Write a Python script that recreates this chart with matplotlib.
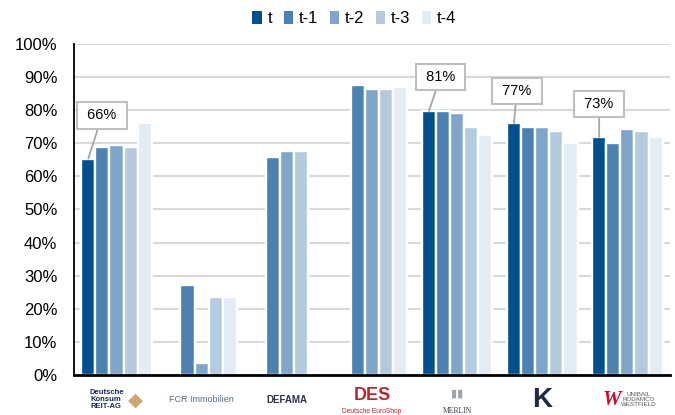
import numpy as np
import matplotlib
matplotlib.use("Agg")
import matplotlib.pyplot as plt
from matplotlib.patches import Patch
from matplotlib.transforms import blended_transform_factory

plt.rcParams['font.family'] = ['Liberation Sans', 'DejaVu Sans']

categories = ["Deutsche Konsum REIT-AG", "FCR Immobilien", "DEFAMA",
              "Deutsche EuroShop", "MERLIN", "Klépierre",
              "Unibail-Rodamco-Westfield"]
series = ["t", "t-1", "t-2", "t-3", "t-4"]
nan = np.nan
val_t  = [65.4, nan, nan, nan, 79.8, 76.1, 71.9]
val_t1 = [68.9, 27.1, 65.8, 87.6, 79.8, 74.9, 70.1]
val_t2 = [69.5, 3.6, 67.7, 86.4, 79.1, 74.9, 74.3]
val_t3 = [68.9, 23.5, 67.7, 86.4, 74.9, 73.7, 73.7]
val_t4 = [76.1, 23.5, nan, 87.0, 72.5, 70.1, 71.9]
values = [val_t, val_t1, val_t2, val_t3, val_t4]
callout_labels = ["66%", None, None, None, "81%", "77%", "73%"]
callout_offsets = [(10, 31), None, None, None, (8.5, 24.5), (2, 23), (0, 24)]
colors = ["#00508F", "#4D81B2", "#7FA6CA", "#B4CADF", "#E3EBF4"]

fig = plt.figure(figsize=(6.75, 4.15), dpi=100)
ax = fig.add_axes([0.1096, 0.0964, 0.8830, 0.7976])

x = np.arange(len(categories))
pitch = 0.166
for k, (vals, col) in enumerate(zip(values, colors)):
    ax.bar(x + (k - 2) * pitch, vals, width=pitch, color=col,
           edgecolor="white", linewidth=1.7, zorder=3)

for i, lab in enumerate(callout_labels):
    if lab is None:
        continue
    ax.annotate(" " + lab + " ", xy=(x[i] - 2 * pitch, val_t[i]),
                xytext=callout_offsets[i], textcoords="offset points",
                ha="center", va="center", fontsize=10.5, color="black",
                bbox=dict(boxstyle="square,pad=0.42", fc="white",
                          ec="#BFBFBF", lw=1.5),
                arrowprops=dict(arrowstyle="-", color="#A6A6A6", lw=1.3,
                                shrinkA=0, shrinkB=0),
                zorder=5)

ax.set_xlim(-0.5, len(categories) - 0.5)
ax.set_ylim(0, 100)
ax.set_yticks(np.arange(0, 101, 10))
ax.set_yticklabels([f"{v}%" for v in range(0, 101, 10)], fontsize=12)
ax.set_xticks([])
ax.tick_params(axis="y", length=0, pad=12)
ax.yaxis.grid(True, color="#D9D9D9", linewidth=1.5, zorder=0)
ax.set_axisbelow(True)
for s in ["top", "right"]:
    ax.spines[s].set_visible(False)
ax.spines["left"].set_linewidth(1.3)
ax.spines["bottom"].set_linewidth(2.0)
ax.spines["bottom"].set_zorder(6)

# logo-like text labels below the axis
tr = blended_transform_factory(ax.transData, ax.transAxes)
ax.text(x[0] - 0.12, -0.075, "Deutsche\nKonsum\nREIT-AG", transform=tr,
        ha="center", va="center", fontsize=5.5, fontweight="bold",
        color="#1B2A4A", linespacing=1.0)
ax.text(x[0] + 0.22, -0.075, "◆", transform=tr, ha="center", va="center",
        fontsize=14, color="#C9A96E", family=["DejaVu Sans"])
ax.text(x[1], -0.075, "FCR Immobilien", transform=tr, ha="center",
        va="center", fontsize=6.5, color="#5A6C86")
ax.text(x[2], -0.075, "DEFAMA", transform=tr, ha="center", va="center",
        fontsize=7, fontweight="bold", color="#2E3440")
ax.text(x[3], -0.062, "DES", transform=tr, ha="center", va="center",
        fontsize=13, fontweight="bold", color="#B22A2E")
ax.text(x[3], -0.11, "Deutsche EuroShop", transform=tr, ha="center",
        va="center", fontsize=4.8, color="#B22A2E")
ax.text(x[4], -0.11, "MERLIN", transform=tr, ha="center", va="center",
        fontsize=5.5, color="#3A3F4A", family=["Liberation Serif"])
ax.text(x[4], -0.055, "▮▮", transform=tr, ha="center", va="center",
        fontsize=8, color="#A0A4AA", family=["DejaVu Sans"])
ax.text(x[5], -0.075, "K", transform=tr, ha="center", va="center",
        fontsize=20, fontweight="bold", color="#1F2A44")
ax.text(x[6] - 0.18, -0.075, "W", transform=tr, ha="center", va="center",
        fontsize=15, fontweight="bold", color="#C8102E",
        family=["Liberation Serif"], style="italic")
ax.text(x[6] + 0.13, -0.075, "UNIBAIL\nRODAMCO\nWESTFIELD", transform=tr,
        ha="center", va="center", fontsize=4.5, color="#555555",
        linespacing=1.0)

handles = [Patch(facecolor=c, edgecolor="none") for c in colors]
fig.legend(handles, series, loc="center", bbox_to_anchor=(0.525, 0.955),
           ncol=5, frameon=False, fontsize=12, handlelength=0.55,
           handleheight=0.8, handletextpad=0.35, columnspacing=0.7)

fig.savefig("out.png", dpi=100)
